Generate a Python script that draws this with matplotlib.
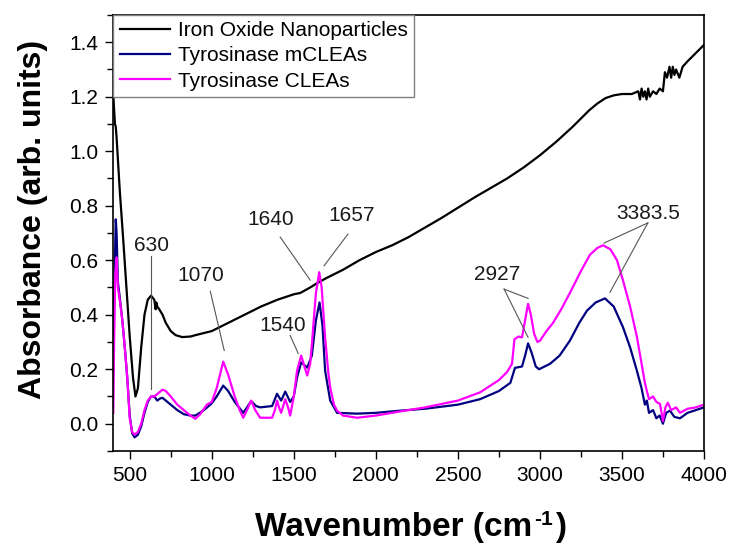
import matplotlib
matplotlib.use('Agg')
import matplotlib.pyplot as plt
from matplotlib.ticker import MultipleLocator

plt.rcParams['font.family'] = ['Liberation Sans', 'DejaVu Sans']

# Iron oxide nanoparticles
wn_fe = [400, 405, 410, 415, 420, 440, 460, 480, 500, 520, 535, 550, 570, 590,
         610, 630, 650, 658, 662, 668, 680, 700, 720, 750, 780, 820, 870, 900,
         1000, 1100, 1200, 1300, 1400, 1500, 1540, 1600, 1640, 1700, 1800, 1900,
         2000, 2100, 2200, 2400, 2600, 2800, 2900, 3000, 3100, 3200, 3300, 3350, 3400, 3450,
         3500, 3560, 3600, 3610, 3620, 3630, 3640, 3650, 3660, 3670, 3690, 3710,
         3730, 3750, 3762, 3775, 3790, 3800, 3810, 3820, 3830, 3850, 3870, 3900,
         3950, 4000]
abs_fe = [1.21, 1.15, 1.10, 1.09, 1.05, 0.85, 0.68, 0.50, 0.32, 0.17, 0.10, 0.13, 0.28, 0.40,
          0.455, 0.47, 0.455, 0.42, 0.445, 0.43, 0.42, 0.40, 0.37, 0.34, 0.325, 0.318, 0.32, 0.325,
          0.34, 0.37, 0.40, 0.43, 0.455, 0.475, 0.48, 0.50, 0.515, 0.535, 0.565, 0.60,
          0.63, 0.655, 0.685, 0.755, 0.83, 0.90, 0.94, 0.985, 1.035, 1.09, 1.15, 1.175, 1.195, 1.205,
          1.21, 1.21, 1.22, 1.19, 1.23, 1.20, 1.22, 1.19, 1.23, 1.20, 1.22, 1.21,
          1.23, 1.22, 1.29, 1.27, 1.31, 1.27, 1.31, 1.28, 1.30, 1.27, 1.31, 1.33,
          1.36, 1.39]

# Tyrosinase mCLEAs
wn_m = [400, 408, 415, 420, 428, 440, 455, 470, 485, 500, 515, 530, 550, 570, 590,
        610, 630, 650, 668, 686, 700, 730, 760, 790, 830, 870, 900, 940, 972, 1000,
        1030, 1070, 1100, 1140, 1192, 1215, 1240, 1270, 1295, 1368, 1398, 1423, 1448,
        1478, 1500, 1520, 1545, 1582, 1610, 1635, 1657, 1675, 1691, 1722, 1764, 1886,
        2000, 2148, 2300, 2500, 2635, 2750, 2820, 2848, 2891, 2910, 2928, 2950, 2975,
        2995, 3062, 3120, 3183, 3240, 3287, 3340, 3397, 3450, 3506, 3550, 3591, 3620,
        3640, 3652, 3665, 3690, 3710, 3730, 3750, 3770, 3793, 3820, 3854, 3900, 3950, 4000]
abs_m = [0.20, 0.55, 0.75, 0.70, 0.52, 0.46, 0.38, 0.28, 0.17, 0.03, -0.035, -0.05, -0.04, -0.01, 0.04,
         0.08, 0.10, 0.10, 0.085, 0.093, 0.095, 0.08, 0.065, 0.05, 0.035, 0.03, 0.03, 0.045, 0.06, 0.075,
         0.10, 0.14, 0.12, 0.08, 0.04, 0.06, 0.083, 0.065, 0.06, 0.065, 0.11, 0.085, 0.118,
         0.08, 0.10, 0.17, 0.225, 0.206, 0.25, 0.38, 0.445, 0.36, 0.195, 0.085, 0.04, 0.037,
         0.04, 0.048, 0.055, 0.07, 0.09, 0.12, 0.15, 0.205, 0.21, 0.25, 0.295, 0.26, 0.21,
         0.20, 0.22, 0.25, 0.305, 0.37, 0.415, 0.445, 0.46, 0.43, 0.355, 0.28, 0.195, 0.13,
         0.07, 0.085, 0.04, 0.05, 0.02, 0.03, 0.0, 0.04, 0.048, 0.025, 0.02, 0.04, 0.05, 0.06]

# Tyrosinase CLEAs
wn_c = [400, 405, 412, 420, 428, 440, 455, 470, 485, 500, 515, 530, 550, 570, 590,
        610, 630, 650, 670, 700, 720, 750, 790, 830, 870, 900, 930, 970, 1000, 1030,
        1070, 1100, 1140, 1170, 1192, 1215, 1240, 1265, 1295, 1368, 1385, 1398, 1410,
        1423, 1448, 1465, 1478, 1500, 1520, 1545, 1565, 1582, 1600, 1612, 1635, 1655,
        1670, 1691, 1710, 1722, 1745, 1764, 1800, 1886, 2000, 2148, 2300, 2500, 2635,
        2750, 2800, 2830, 2845, 2870, 2891, 2910, 2928, 2945, 2965, 2985, 3001, 3040,
        3080, 3130, 3183, 3250, 3305, 3350, 3385, 3430, 3470, 3506, 3550, 3591, 3620,
        3640, 3652, 3665, 3690, 3710, 3732, 3750, 3765, 3780, 3800, 3830, 3854, 3900, 3950, 4000]
abs_c = [0.04, 0.30, 0.55, 0.61, 0.50, 0.45, 0.38, 0.28, 0.17, 0.02, -0.03, -0.04, -0.03, 0.0, 0.05,
         0.085, 0.10, 0.10, 0.11, 0.125, 0.12, 0.10, 0.07, 0.05, 0.03, 0.018, 0.035, 0.07, 0.08, 0.13,
         0.228, 0.18, 0.10, 0.05, 0.022, 0.05, 0.085, 0.05, 0.022, 0.022, 0.05, 0.085, 0.06,
         0.04, 0.09, 0.06, 0.03, 0.10, 0.195, 0.25, 0.21, 0.177, 0.22, 0.305, 0.48, 0.556,
         0.50, 0.317, 0.19, 0.133, 0.07, 0.048, 0.03, 0.022, 0.03, 0.045, 0.06, 0.085, 0.115,
         0.16, 0.19, 0.22, 0.31, 0.32, 0.317, 0.38, 0.44, 0.40, 0.33, 0.30, 0.305, 0.34,
         0.37, 0.42, 0.48, 0.56, 0.62, 0.645, 0.655, 0.64, 0.60, 0.527, 0.43, 0.32, 0.22,
         0.15, 0.12, 0.09, 0.10, 0.08, 0.073, 0.01, 0.06, 0.077, 0.05, 0.06, 0.04, 0.055, 0.06, 0.07]

# peak labels: text, text position, leader line(s) start -> end
peak_labels = ['630', '1070', '1540', '1640', '1657', '2927', '3383.5']
label_xy = [(630, 0.655), (930, 0.545), (1432, 0.361), (1362, 0.748),
            (1850, 0.766), (2742, 0.547), (3658, 0.773)]
leaders = [
    [((629, 0.614), (629, 0.129))],
    [((991, 0.486), (1076, 0.269))],
    [((1478, 0.324), (1527, 0.258))],
    [((1417, 0.685), (1600, 0.527))],
    [((1830, 0.696), (1685, 0.58))],
    [((2782, 0.494), (2928, 0.46)), ((2782, 0.494), (2928, 0.317))],
    [((3658, 0.737), (3391, 0.663)), ((3658, 0.737), (3427, 0.482))],
]

fig, ax = plt.subplots(figsize=(7.31, 5.45), dpi=100)
fig.subplots_adjust(left=0.155, right=0.963, top=0.9725, bottom=0.1725)

ax.plot(wn_fe, abs_fe, color='black', lw=1.6, label='Iron Oxide Nanoparticles')
ax.plot(wn_m, abs_m, color='#000080', lw=1.6, label='Tyrosinase mCLEAs')
ax.plot(wn_c, abs_c, color='#ff00ff', lw=1.6, label='Tyrosinase CLEAs')

for lab, (tx, ty), segs in zip(peak_labels, label_xy, leaders):
    ax.text(tx, ty, lab, fontsize=15, ha='center', va='center', color='#1a1a1a')
    for (x0, y0), (x1, y1) in segs:
        ax.plot([x0, x1], [y0, y1], color='#555555', lw=0.8)

ax.set_xlim(400, 4000)
ax.xaxis.set_major_locator(MultipleLocator(500))
ax.xaxis.set_minor_locator(MultipleLocator(250))
ax.yaxis.set_minor_locator(MultipleLocator(0.1))
ax.set_yticks([0.0, 0.2, 0.4, 0.6, 0.8, 1.0, 1.2, 1.4])
ax.set_ylim(-0.1, 1.5)
ax.tick_params(which='major', direction='out', length=6, width=1, labelsize=15, pad=5)
ax.tick_params(which='minor', direction='out', length=4, width=1)
for sp in ax.spines.values():
    sp.set_linewidth(1.2)

# x label built in pieces so the superscript uses a plain hyphen
xl_main = fig.text(0.349, 0.017, 'Wavenumber (cm', fontsize=24, fontweight='bold',
                   ha='left', va='baseline')
xl_sup = ax.annotate('-1', xy=(1, 0), xycoords=xl_main, xytext=(1.5, 13),
                     textcoords='offset points', fontsize=15, fontweight='bold',
                     ha='left', va='baseline', annotation_clip=False)
ax.annotate(')', xy=(1, 0), xycoords=(xl_sup, xl_main), xytext=(1, 0),
            textcoords='offset points', fontsize=24, fontweight='bold',
            ha='left', va='bottom', annotation_clip=False)

ax.set_ylabel('Absorbance (arb. units)', fontsize=23, fontweight='bold')
ax.yaxis.set_label_coords(-0.11, 0.53)

leg = ax.legend(loc='upper left', fontsize=15, frameon=True, fancybox=False,
                borderaxespad=0, handlelength=2.4, handletextpad=0.4,
                labelspacing=0.3, borderpad=0.3)
leg.get_frame().set_edgecolor('#808080')
leg.get_frame().set_linewidth(1.0)
leg.get_frame().set_alpha(1)

fig.savefig('out.png', dpi=100)
